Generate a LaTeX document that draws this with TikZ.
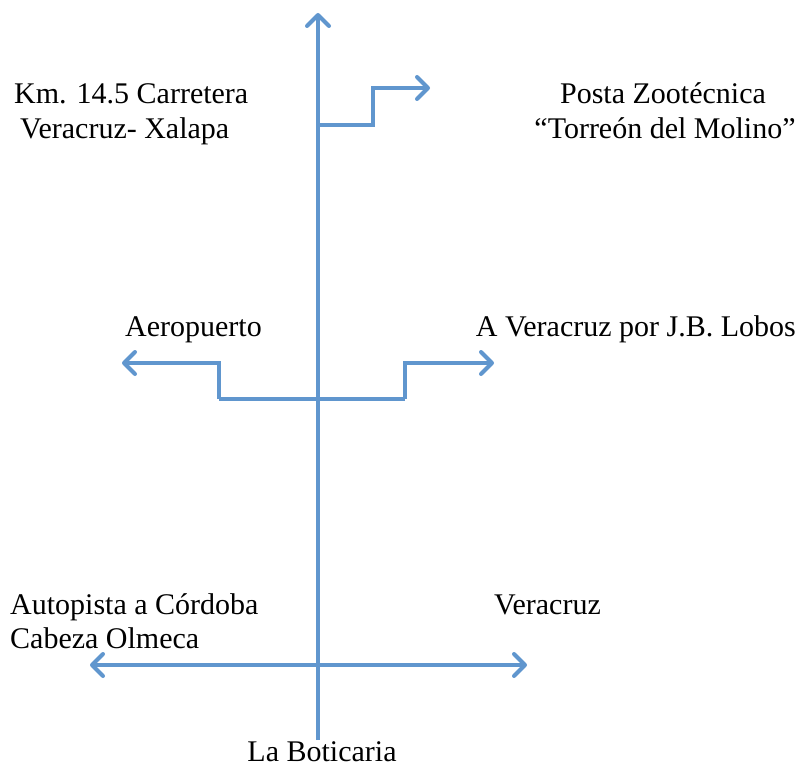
\documentclass[tikz,border=0pt]{standalone}
\usepackage{fontspec}
\setmainfont{Liberation Serif}
\usepackage{xcolor}
\usepackage{tikz}
\usetikzlibrary{arrows.meta, positioning}

\definecolor{roadblue}{RGB}{96,150,206}

\begin{document}
\begin{tikzpicture}[
    x=1pt, y=-1pt,
    road/.style={draw=roadblue, line width=4pt, line join=miter},
    tip/.style={-{Straight Barb[length=11pt, width=22pt, line width=4pt, round]}},
    place/.style={inner sep=0pt, font=\fontsize{30}{35}\selectfont},
]
    \useasboundingbox (0,0) rectangle (802,767);

    % Main road
    \coordinate (south) at (318,740);
    \coordinate (north) at (318,13);

    % Top branch
    \coordinate (topjoin) at (318,125);
    \coordinate (topstep) at (373,125);
    \coordinate (topup) at (373,88);
    \coordinate (toptip) at (430,88);

    % Middle branches
    \coordinate (midjoin) at (318,399);
    \coordinate (midleft) at (219,399);
    \coordinate (midleftup) at (219,363);
    \coordinate (midlefttip) at (122,363);
    \coordinate (midright) at (405,399);
    \coordinate (midrightup) at (405,363);
    \coordinate (midrighttip) at (494,363);

    % Bottom cross road
    \coordinate (cross) at (318,665);
    \coordinate (westtip) at (90,665);
    \coordinate (easttip) at (527,665);

    % Labels
    \node[place, anchor=base west] (km) at (14,104) {Km. 14.5 Carretera};
    \node[place, anchor=base west] (kmb) at (20,139) {Veracruz- Xalapa};
    \node[place, anchor=base] (posta) at (663,104) {Posta Zootécnica};
    \node[place, anchor=base] (postab) at (665,139) {“Torreón del Molino”};
    \node[place, anchor=base west] (aero) at (125,336) {Aeropuerto};
    \node[place, anchor=base east] (lobos) at (796,336) {A Veracruz por J.B. Lobos};
    \node[place, anchor=base west] (cordoba) at (10,614) {Autopista a Córdoba};
    \node[place, anchor=base west] (olmeca) at (10,648) {Cabeza Olmeca};
    \node[place, anchor=base west] (veracruz) at (494,614) {Veracruz};
    \node[place, anchor=base] (boticaria) at (322,761) {La Boticaria};

    % Roads
    \draw[road, tip] (south) -- (north);
    \draw[road, tip] (topjoin) -- (topstep) -- (topup) -- (toptip);
    \draw[road] (midleft) -- (midright);
    \draw[road, tip] (midleft) -- (midleftup) -- (midlefttip);
    \draw[road, tip] (midright) -- (midrightup) -- (midrighttip);
    \draw[road, tip] (cross) -- (easttip);
    \draw[road, tip] (cross) -- (westtip);
\end{tikzpicture}
\end{document}
